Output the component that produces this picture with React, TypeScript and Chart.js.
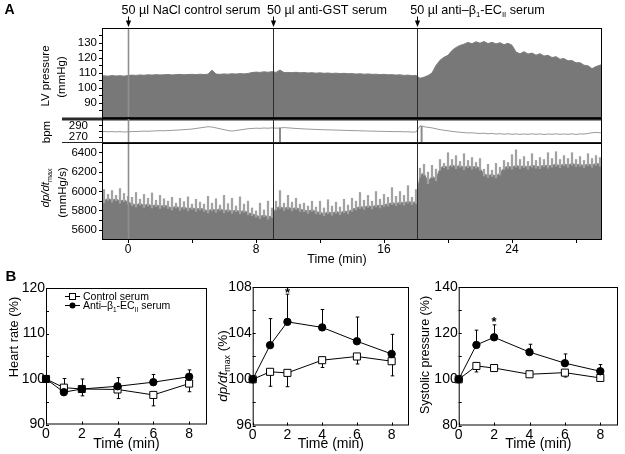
import React, { useEffect, useRef } from 'react';
import { Chart, registerables } from 'chart.js';

Chart.register(...registerables);

const FONT = '"Liberation Sans", Arial, Helvetica, sans-serif';

// ---------------- Panel A: continuous recordings ----------------
const aStartTime = -1.75; // min, time of first sample
const aStep = 0.25; // min between samples
const aXMin = -1.625;
const aXMax = 29.625;
const aXTicks = [0, 4, 8, 12, 16, 20, 24, 28];
const aXTickLabels = [0, 8, 16, 24];
const injectionTimes = [0, 9.06, 18.06];

const lvPressure = [
  107.8, 108.1, 107.9, 108.3, 108.0, 108.2, 107.9,
  108.3, 108.6, 108.4, 108.7, 108.5, 108.8, 108.6, 108.9, 108.7, 108.8, 109.0, 108.7, 108.9, 109.1, 108.8, 109.0,
  109.1, 108.9, 109.2, 109.0, 109.2, 111.9, 109.3, 109.1,
  109.4, 109.2, 109.5, 109.3, 109.6, 109.4, 109.7, 110.3,
  110.6, 110.4, 110.8, 110.5, 110.9, 110.4, 112.0, 110.3,
  110.4, 110.2, 110.5, 110.1, 110.3, 110.0, 110.2, 109.9, 110.1, 109.8, 110.0, 109.7, 109.9, 109.6, 109.8, 109.5,
  109.6, 109.3, 109.5, 109.2, 109.4, 109.1, 109.2, 108.9, 109.1, 108.8, 108.9, 108.6, 108.8, 108.4, 108.6, 108.2, 108.4,
  106.5, 107.2, 108.3, 110.0, 115.0, 118.5, 120.5, 121.8, 125.0, 127.0, 128.4,
  129.2, 130.4, 129.5, 130.8, 129.9, 131.0, 129.6, 130.5, 129.4, 130.2, 128.9, 129.8, 128.5,
  124.0, 122.8, 124.2, 122.6, 123.3, 121.9, 122.9, 121.3, 121.8, 120.3, 120.9, 119.2, 119.6, 118.1, 118.3, 116.8,
  116.9, 115.2, 114.8, 112.9, 114.3, 115.2, 116.0,
];

const heartRateBpm = [
  279.5, 279.8, 279.3, 279.6, 279.2, 279.5, 279.0,
  279.3, 279.6, 279.8, 280.1, 280.4, 280.2, 280.6, 280.9, 281.2, 281.0, 281.5, 281.8, 282.1, 282.5, 283.0, 283.4,
  284.0, 285.0, 286.0, 287.0, 288.0, 287.5, 286.0, 284.5,
  283.0, 281.5, 280.5, 281.5, 282.5, 283.5, 284.5, 285.0,
  285.5, 285.2, 285.8, 285.4, 286.0, 285.5, 285.8, 286.5,
  286.0, 285.5, 285.0, 284.6, 284.2, 283.9, 283.6, 283.3, 283.0, 282.8, 282.6, 282.4, 282.2, 282.0, 281.8, 281.6,
  281.4, 281.2, 281.0, 280.8, 280.6, 280.4, 280.3, 280.1, 280.0, 279.8, 279.7, 279.5, 279.6, 279.2, 279.4, 278.8, 279.0,
  289.5, 288.0, 287.0, 286.0, 284.5, 283.0, 282.0, 281.0, 280.0, 279.2, 278.5,
  278.0, 277.3, 277.6, 276.8, 276.4, 276.9, 275.9, 276.3, 275.5, 276.0, 275.2, 275.8, 275.0,
  275.6, 274.8, 275.5, 274.9, 275.7, 275.0, 275.6, 274.7, 275.4, 275.1, 275.8, 274.9, 275.5, 275.0, 275.7, 274.8,
  275.6, 275.4, 276.5, 277.5, 278.2, 277.6, 277.0,
];
// brief artefactual drops of the rate trace
const bpmDropTimes = [9.5, 18.35];
const bpmDropLow = [262, 261];
const bpmDropHigh = [285.6, 289.0];

// dp/dt max: dense lower envelope and the tops of the beat-to-beat spikes
const dpdtBase = [
  5920, 5905, 5930, 5910, 5925, 5900, 5915, 5890,
  5875, 5860, 5880, 5855, 5870, 5850, 5865, 5845, 5860,
  5845, 5830, 5850, 5825, 5840, 5820, 5835, 5815, 5830,
  5815, 5800, 5820, 5805, 5825, 5800, 5815, 5795, 5810, 5790, 5805, 5780, 5770,
  5755, 5740, 5760, 5735, 5750,
  5830, 5845, 5825, 5840, 5820, 5835, 5815,
  5810, 5795, 5815, 5790,
  5785, 5770, 5790, 5775, 5795, 5780, 5800, 5790, 5815,
  5830, 5845, 5835, 5855, 5840, 5860, 5850, 5865,
  5870, 5885, 5875, 5890, 5880, 5900, 5885, 5895,
  6170, 6190, 6100, 6160, 6130,
  6240, 6265, 6250, 6275, 6255, 6270, 6245, 6265, 6250, 6260, 6240,
  6180, 6165, 6175, 6160, 6190,
  6245, 6260, 6250, 6270, 6255, 6265, 6250, 6270, 6260, 6255, 6275, 6260, 6270,
  6280, 6265, 6285, 6270, 6290, 6275, 6280, 6265, 6285, 6270, 6290, 6280, 6275,
];

const dpdtPeak = [
  5990, 6020, 5970, 6010, 5960, 6030, 5980, 5950,
  5940, 5990, 5920, 5970, 5930, 5985, 5910, 5960, 5925,
  5900, 5940, 5880, 5930, 5895, 5945, 5870, 5920, 5890,
  5870, 5950, 5880, 5925, 5860, 5960, 5875, 5930, 5850, 5945, 5870, 5900, 5830,
  5800, 5880, 5810, 5900, 5830,
  5900, 6010, 5880, 5960, 5890, 5930, 5870,
  5880, 5850, 5900, 5840,
  5900, 5830, 5915, 5850, 5890, 5840, 5920, 5860, 5930,
  5900, 5990, 5910, 5960, 5900, 6000, 5920, 5970,
  5940, 6040, 5950, 6000, 5960, 6060, 5940, 6020,
  6240, 6280, 6200, 6270, 6230,
  6330, 6290, 6400, 6330, 6370, 6310, 6390, 6320, 6350, 6300, 6340,
  6230, 6280, 6220, 6290, 6250,
  6320, 6300, 6380, 6430, 6330, 6360, 6310, 6390, 6320, 6350, 6330, 6400, 6340,
  6410, 6330, 6370, 6340, 6400, 6330, 6360, 6320, 6390, 6340, 6370, 6350, 6360,
];

const lvTicks = [85, 90, 95, 100, 105, 110, 115, 120, 125, 130, 135];
const lvTickLabels = [90, 100, 110, 120, 130];
const bpmTicks = [270, 280, 290];
const bpmTickLabels = [270, 290];
const dpdtTicks = [5600, 5700, 5800, 5900, 6000, 6100, 6200, 6300, 6400];
const dpdtTickLabels = [5600, 5800, 6000, 6200, 6400];

// ---------------- Panel B: summary (% of baseline) ----------------
const bTimes = [0, 1, 2, 4, 6, 8];
const bXTicks = [0, 2, 4, 6, 8];
const hrControl = [100, 98.1, 97.8, 97.7, 96.5, 99.0];
const hrControlSem = [0, 1.0, 1.5, 2.0, 2.4, 1.8];
const hrAnti = [100, 97.1, 97.8, 98.4, 99.3, 100.5];
const hrAntiSem = [0, 3.0, 2.2, 1.9, 1.7, 1.5];
const dpControl = [100, 100.65, 100.56, 101.66, 101.98, 101.57];
const dpControlSem = [0, 1.25, 1.2, 0.63, 0.65, 1.27];
const dpAnti = [100, 102.96, 104.98, 104.5, 103.3, 102.2];
const dpAntiSem = [0, 2.3, 2.4, 1.55, 2.1, 1.7];
const spControl = [100, 105.8, 104.9, 102.2, 102.9, 100.6];
const spControlSem = [0, 2.6, 1.0, 0.8, 1.9, 0.8];
const spAnti = [100, 114.9, 118.2, 111.8, 107.0, 103.5];
const spAntiSem = [0, 6.4, 5.4, 3.4, 4.0, 2.9];
const significantIndex = 2;

// ---------------- helpers ----------------
type Seg = { t: string; sub?: boolean; italic?: boolean };

function drawRich(ctx: any, segs: Seg[], x: number, y: number, size: number, o: any = {}) {
  const subScale = o.subScale ?? 0.62;
  const font = (s: Seg) =>
    `${s.italic ? 'italic ' : ''}${o.bold ? 'bold ' : ''}${(s.sub ? size * subScale : size).toFixed(2)}px ${FONT}`;
  ctx.save();
  ctx.translate(x, y);
  if (o.rotate) ctx.rotate(-Math.PI / 2);
  let w = 0;
  const widths = segs.map((s) => {
    ctx.font = font(s);
    const m = ctx.measureText(s.t).width;
    w += m;
    return m;
  });
  let cx = o.align === 'left' ? 0 : -w / 2;
  const base = size * 0.36;
  ctx.fillStyle = o.color ?? '#000';
  ctx.textAlign = 'left';
  ctx.textBaseline = 'alphabetic';
  segs.forEach((s, i) => {
    ctx.font = font(s);
    ctx.fillText(s.t, cx, base + (s.sub ? size * 0.25 : 0));
    cx += widths[i];
  });
  ctx.restore();
}

function line(ctx: any, x1: number, y1: number, x2: number, y2: number) {
  ctx.beginPath();
  ctx.moveTo(x1, y1);
  ctx.lineTo(x2, y2);
  ctx.stroke();
}

const zeroPad = (s: any) => {
  s.paddingTop = 0;
  s.paddingBottom = 0;
  s.paddingLeft = 0;
  s.paddingRight = 0;
};

const aTime = (i: number) => aStartTime + i * aStep;

// ---------------- Panel A charts ----------------
function makeTop(canvas: HTMLCanvasElement, o: any) {
  const datasets: any[] = [
    {
      type: 'line',
      data: o.values.map((v: number, i: number) => ({ x: aTime(i), y: v })),
      borderColor: o.lineColor,
      borderWidth: o.lineWidth,
      backgroundColor: o.fillColor ?? 'rgba(0,0,0,0)',
      fill: o.fillColor ? 'start' : false,
      pointRadius: 0,
      tension: 0,
      clip: 0,
      order: 1,
    },
  ];
  if (o.bars) {
    datasets.push({
      type: 'bar',
      data: o.bars,
      backgroundColor: o.barColor,
      borderWidth: 0,
      barThickness: o.barWidth,
      grouped: false,
      clip: 0,
      order: 0,
    });
  }
  return new Chart(canvas, {
    type: 'line',
    data: { datasets },
    options: {
      responsive: false,
      animation: false,
      events: [],
      devicePixelRatio: 1,
      layout: { padding: { left: 0, right: 23, top: o.padTop, bottom: o.padBottom } },
      plugins: { legend: { display: false }, tooltip: { enabled: false } },
      scales: {
        x: {
          type: 'linear',
          display: o.showX,
          offset: false,
          min: aXMin,
          max: aXMax,
          afterBuildTicks: (s: any) => {
            s.ticks = aXTicks.map((v) => ({ value: v }));
          },
          ticks: {
            font: { family: FONT, size: 12 },
            color: '#000',
            padding: -1,
            autoSkip: false,
            maxRotation: 0,
            callback: (v: any) => (aXTickLabels.includes(Number(v)) ? String(v) : ''),
          },
          grid: { display: true, drawOnChartArea: false, drawTicks: true, tickLength: 3, color: '#000', offset: false },
          border: { display: false },
          afterFit: (s: any) => {
            s.height = o.showX ? 22 : 0;
            zeroPad(s);
          },
        },
        y: {
          type: 'linear',
          min: o.yMin,
          max: o.yMax,
          afterBuildTicks: (s: any) => {
            s.ticks = o.yTicks.map((v: number) => ({ value: v }));
          },
          ticks: {
            font: { family: FONT, size: 11.5 },
            color: '#000',
            padding: o.labelPad,
            autoSkip: false,
            callback: (v: any) => (o.yLabels.includes(Number(v)) ? String(v) : ''),
          },
          grid: { display: true, drawOnChartArea: false, drawTicks: true, tickLength: 3, color: '#000' },
          border: { display: false },
          afterFit: (s: any) => {
            s.width = 102;
            zeroPad(s);
          },
        },
      },
    } as any,
    plugins: [
      {
        id: 'topDeco',
        afterDraw: (chart: any) => {
          const { ctx, chartArea: a, scales } = chart;
          ctx.save();
          injectionTimes.forEach((t, k) => {
            const x = Math.round(scales.x.getPixelForValue(t)) + 0.5;
            ctx.strokeStyle = k === 0 ? '#8f8f8f' : '#2a2a2a';
            ctx.lineWidth = k === 0 ? 1.6 : 1;
            line(ctx, x, a.top, x, a.bottom);
          });
          ctx.strokeStyle = '#000';
          ctx.lineWidth = 1;
          ctx.strokeRect(a.left + 0.5, a.top + 0.5, a.right - a.left - 1, a.bottom - a.top - 1);
          o.extra(ctx, a, scales);
          ctx.restore();
        },
      },
    ],
  });
}

const makeLV = (canvas: HTMLCanvasElement) =>
  makeTop(canvas, {
    values: lvPressure,
    yMin: 80,
    yMax: 140,
    yTicks: lvTicks,
    yLabels: lvTickLabels,
    padTop: 28,
    padBottom: 4,
    showX: false,
    fillColor: '#787878',
    lineColor: '#7c7c7c',
    lineWidth: 1,
    labelPad: 2,
    extra: (ctx: any, a: any, scales: any) => {
      ctx.fillStyle = '#2b2b2b';
      ctx.fillRect(62, a.bottom - 0.5, a.right - 62, 3);
      ctx.fillStyle = '#000';
      ctx.font = `bold 14px ${FONT}`;
      ctx.textAlign = 'left';
      ctx.textBaseline = 'alphabetic';
      ctx.fillText('A', 4.5, 14);
      ctx.strokeStyle = '#000';
      ctx.lineWidth = 1;
      injectionTimes.forEach((t) => {
        const x = Math.round(scales.x.getPixelForValue(t)) + 0.5;
        line(ctx, x, 16.5, x, 22);
        ctx.beginPath();
        ctx.moveTo(x - 2.6, 20.5);
        ctx.lineTo(x + 2.6, 20.5);
        ctx.lineTo(x, 27);
        ctx.closePath();
        ctx.fillStyle = '#000';
        ctx.fill();
      });
      drawRich(ctx, [{ t: '50 µl NaCl control serum' }], 191, 9.5, 12.6);
      drawRich(ctx, [{ t: '50 µl anti-GST serum' }], 327, 9.5, 12.6);
      drawRich(
        ctx,
        [{ t: '50 µl anti–β' }, { t: '1', sub: true }, { t: '-EC' }, { t: 'II', sub: true }, { t: ' serum' }],
        477.5,
        9.5,
        12.6
      );
      drawRich(ctx, [{ t: 'LV pressure' }], 44.5, 76, 11.5, { rotate: true });
      drawRich(ctx, [{ t: '(mmHg)' }], 61, 77, 11.5, { rotate: true });
    },
  });

const makeBpm = (canvas: HTMLCanvasElement) =>
  makeTop(canvas, {
    values: heartRateBpm,
    bars: bpmDropTimes.map((t, i) => ({ x: t, y: [bpmDropLow[i], bpmDropHigh[i]] })),
    barColor: '#8a8a8a',
    barWidth: 1.3,
    yMin: 260,
    yMax: 303,
    yTicks: bpmTicks,
    yLabels: bpmTickLabels,
    padTop: 4,
    padBottom: 4,
    showX: false,
    fillColor: null,
    lineColor: '#9a9a9a',
    lineWidth: 1,
    labelPad: 11,
    extra: (ctx: any, a: any) => {
      ctx.strokeStyle = '#222';
      ctx.lineWidth = 1.2;
      line(ctx, 62, a.bottom - 0.5, a.right, a.bottom - 0.5);
      drawRich(ctx, [{ t: 'bpm' }], 46, 18, 11.5, { rotate: true });
    },
  });

const makeDpdt = (canvas: HTMLCanvasElement) =>
  makeTop(canvas, {
    values: dpdtBase,
    bars: dpdtPeak.map((p, i) => ({ x: aTime(i), y: [dpdtBase[i] - 20, p] })),
    barColor: '#a2a2a2',
    barWidth: 1.6,
    yMin: 5500,
    yMax: 6500,
    yTicks: dpdtTicks,
    yLabels: dpdtTickLabels,
    padTop: 4,
    padBottom: 8,
    showX: true,
    fillColor: '#7a7a7a',
    lineColor: '#858585',
    lineWidth: 1,
    labelPad: 2,
    extra: (ctx: any) => {
      drawRich(ctx, [{ t: 'dp/dt', italic: true }, { t: 'max', sub: true }], 45, 188 - 139, 11.5, { rotate: true });
      drawRich(ctx, [{ t: '(mmHg/s)' }], 62, 192.5 - 139, 11.5, { rotate: true });
      drawRich(ctx, [{ t: 'Time (min)' }], 337, 258 - 139, 12.5);
    },
  });

// ---------------- Panel B charts ----------------
function makeB(canvas: HTMLCanvasElement, o: any) {
  const pt = (vals: number[]) => bTimes.map((t, i) => ({ x: t, y: vals[i] }));
  return new Chart(canvas, {
    type: 'line',
    data: {
      datasets: [
        {
          label: 'Anti-β1-ECII serum',
          data: pt(o.anti),
          borderColor: '#000',
          borderWidth: 1,
          pointStyle: 'circle',
          pointRadius: 3.7,
          pointBackgroundColor: '#000',
          pointBorderColor: '#000',
          pointBorderWidth: 1,
          fill: false,
          tension: 0,
          clip: false,
        } as any,
        {
          label: 'Control serum',
          data: pt(o.control),
          borderColor: '#000',
          borderWidth: 1,
          pointStyle: 'rect',
          pointRadius: 5,
          pointBackgroundColor: '#fff',
          pointBorderColor: '#000',
          pointBorderWidth: 1,
          fill: false,
          tension: 0,
          clip: false,
        } as any,
      ],
    },
    options: {
      responsive: false,
      animation: false,
      events: [],
      devicePixelRatio: 1,
      layout: { padding: { left: 0, right: o.padRight, top: o.padTop, bottom: 0 } },
      plugins: { legend: { display: false }, tooltip: { enabled: false } },
      scales: {
        x: {
          type: 'linear',
          min: 0,
          max: 9,
          afterBuildTicks: (s: any) => {
            s.ticks = bXTicks.map((v) => ({ value: v }));
          },
          ticks: { font: { family: FONT, size: 14 }, color: '#000', padding: 1, autoSkip: false, maxRotation: 0 },
          grid: { display: false, drawTicks: false },
          border: { display: false },
          title: {
            display: true,
            text: 'Time (min)',
            font: { family: FONT, size: 14 },
            color: '#000',
            padding: { top: 0, bottom: 1 },
          },
          afterFit: (s: any) => {
            s.height = o.xHeight;
            zeroPad(s);
          },
        },
        y: {
          type: 'linear',
          min: o.yMin,
          max: o.yMax,
          afterBuildTicks: (s: any) => {
            s.ticks = o.yMajor.map((v: number) => ({ value: v }));
          },
          ticks: { font: { family: FONT, size: 14 }, color: '#000', padding: 1, autoSkip: false },
          grid: { display: false, drawTicks: false },
          border: { display: false },
          afterFit: (s: any) => {
            s.width = o.yWidth;
            zeroPad(s);
          },
        },
      },
    } as any,
    plugins: [
      {
        id: 'bDeco',
        beforeDatasetsDraw: (chart: any) => {
          const { ctx, scales } = chart;
          ctx.save();
          ctx.strokeStyle = '#000';
          ctx.lineWidth = 1;
          const sets: [number[], number[], number][] = [
            [o.anti, o.antiSem, 1],
            [o.control, o.controlSem, -1],
          ];
          sets.forEach(([vals, errs, dir]) => {
            vals.forEach((v, i) => {
              if (!errs[i]) return;
              const px = Math.round(scales.x.getPixelForValue(bTimes[i])) + 0.5;
              const y0 = scales.y.getPixelForValue(v);
              const y1 = scales.y.getPixelForValue(v + dir * errs[i]);
              line(ctx, px, y0, px, y1);
              line(ctx, px - 1.8, y1, px + 1.8, y1);
            });
          });
          ctx.restore();
        },
        afterDraw: (chart: any) => {
          const { ctx, chartArea: a, scales } = chart;
          ctx.save();
          ctx.strokeStyle = '#000';
          ctx.lineWidth = 1;
          ctx.strokeRect(a.left + 0.5, a.top + 0.5, a.right - a.left - 1, a.bottom - a.top - 1);
          bXTicks.forEach((t) => {
            const px = Math.round(scales.x.getPixelForValue(t)) + 0.5;
            line(ctx, px, a.bottom, px, a.bottom - 3);
          });
          [...o.yMajor, ...o.yMinor].forEach((v: number) => {
            const py = Math.round(scales.y.getPixelForValue(v)) + 0.5;
            line(ctx, a.left, py, a.left + 3, py);
          });
          if (o.star) {
            const i = significantIndex;
            const sx = scales.x.getPixelForValue(bTimes[i]);
            const sy = scales.y.getPixelForValue(o.anti[i] + o.antiSem[i]) - o.starGap;
            ctx.font = `bold 13px ${FONT}`;
            ctx.textAlign = 'center';
            ctx.textBaseline = 'alphabetic';
            const m = ctx.measureText('*');
            ctx.fillStyle = '#000';
            ctx.fillText('*', sx, sy + (m.actualBoundingBoxAscent - m.actualBoundingBoxDescent) / 2);
          }
          ctx.translate(-o.left, -o.top);
          drawRich(ctx, o.title, o.titleX, o.titleY, o.titleSize, { rotate: true, subScale: 0.65 });
          if (o.extra) o.extra(ctx);
          ctx.restore();
        },
      },
    ],
  });
}

const B_TOP = 262;

const makeHR = (canvas: HTMLCanvasElement) =>
  makeB(canvas, {
    left: 0,
    top: B_TOP,
    control: hrControl,
    controlSem: hrControlSem,
    anti: hrAnti,
    antiSem: hrAntiSem,
    yMin: 90,
    yMax: 120,
    yMajor: [90, 100, 110, 120],
    yMinor: [95, 105, 115],
    yWidth: 46,
    padTop: 26,
    padRight: 8,
    xHeight: 29.5,
    star: false,
    title: [{ t: 'Heart rate (%)' }],
    titleX: 13.5,
    titleY: 337,
    titleSize: 12.8,
    extra: (ctx: any) => {
      ctx.fillStyle = '#000';
      ctx.font = `bold 15px ${FONT}`;
      ctx.textAlign = 'left';
      ctx.textBaseline = 'alphabetic';
      ctx.fillText('B', 5.5, 281);
      ctx.strokeStyle = '#000';
      ctx.lineWidth = 1;
      line(ctx, 65, 296.5, 80, 296.5);
      ctx.fillStyle = '#fff';
      ctx.fillRect(69.5, 293.5, 6, 6);
      ctx.strokeRect(69.5, 293.5, 6, 6);
      drawRich(ctx, [{ t: 'Control serum' }], 83, 296.5, 10.5, { align: 'left' });
      line(ctx, 65, 305.5, 80, 305.5);
      ctx.fillStyle = '#000';
      ctx.beginPath();
      ctx.arc(72.5, 305.5, 3, 0, Math.PI * 2);
      ctx.fill();
      drawRich(
        ctx,
        [{ t: 'Anti–β' }, { t: '1', sub: true }, { t: '-EC' }, { t: 'II', sub: true }, { t: ' serum' }],
        83,
        305.5,
        10.5,
        { align: 'left' }
      );
    },
  });

const makeDP = (canvas: HTMLCanvasElement) =>
  makeB(canvas, {
    left: 215,
    top: B_TOP,
    control: dpControl,
    controlSem: dpControlSem,
    anti: dpAnti,
    antiSem: dpAntiSem,
    yMin: 96,
    yMax: 108,
    yMajor: [96, 100, 104, 108],
    yMinor: [98, 102, 106],
    yWidth: 37.7,
    padTop: 25,
    padRight: 4,
    xHeight: 28.5,
    star: true,
    starGap: 3.5,
    title: [{ t: 'dp/dt', italic: true }, { t: 'max', sub: true }, { t: ' (%)' }],
    titleX: 222,
    titleY: 366,
    titleSize: 13.5,
  });

const makeSP = (canvas: HTMLCanvasElement) =>
  makeB(canvas, {
    left: 415,
    top: B_TOP,
    control: spControl,
    controlSem: spControlSem,
    anti: spAnti,
    antiSem: spAntiSem,
    yMin: 80,
    yMax: 140,
    yMajor: [80, 100, 120, 140],
    yMinor: [90, 110, 130],
    yWidth: 43.7,
    padTop: 25,
    padRight: 7,
    xHeight: 28.5,
    star: true,
    starGap: 5,
    title: [{ t: 'Systolic pressure (%)' }],
    titleX: 424,
    titleY: 355,
    titleSize: 12.5,
  });

// ---------------- React ----------------
function ChartCanvas(props: { left: number; top: number; width: number; height: number; make: (c: HTMLCanvasElement) => Chart }) {
  const ref = useRef<HTMLCanvasElement>(null);
  useEffect(() => {
    const chart = props.make(ref.current as HTMLCanvasElement);
    return () => chart.destroy();
  }, []);
  return (
    <canvas
      ref={ref}
      width={props.width}
      height={props.height}
      style={{ position: 'absolute', left: props.left, top: props.top, width: props.width, height: props.height }}
    />
  );
}

export default function App() {
  return (
    <div style={{ position: 'absolute', left: 0, top: 0, width: 625, height: 454, background: '#fff', overflow: 'hidden' }}>
      <ChartCanvas left={0} top={0} width={625} height={122} make={makeLV} />
      <ChartCanvas left={0} top={114} width={625} height={33} make={makeBpm} />
      <ChartCanvas left={0} top={139} width={625} height={131} make={makeDpdt} />
      <ChartCanvas left={0} top={B_TOP} width={215} height={192} make={makeHR} />
      <ChartCanvas left={215} top={B_TOP} width={200} height={192} make={makeDP} />
      <ChartCanvas left={415} top={B_TOP} width={210} height={192} make={makeSP} />
    </div>
  );
}
